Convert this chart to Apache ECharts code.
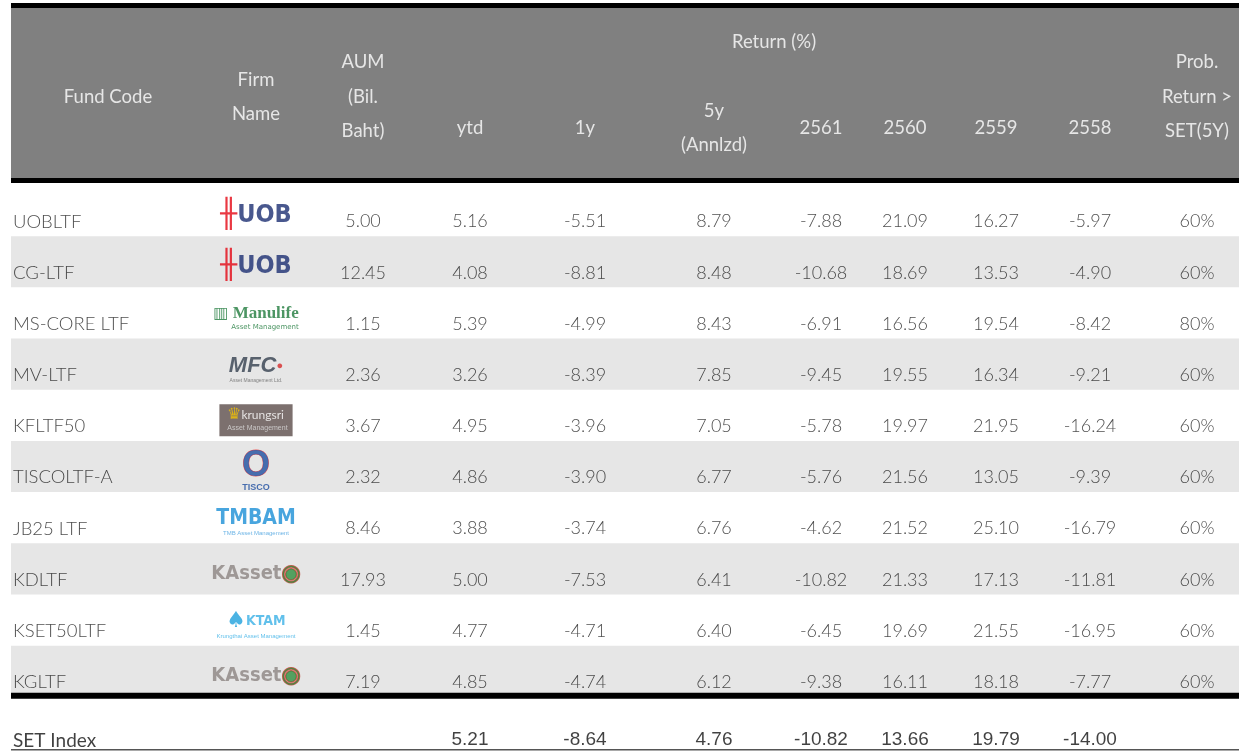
<!DOCTYPE html>
<html>
<head>
<meta charset="utf-8">
<title>LTF fund returns</title>
<script src="https://cdn.jsdelivr.net/npm/echarts@6/dist/echarts.min.js"></script>
<style>
html, body { margin: 0; padding: 0; background: #fff; }
#main { width: 1239px; height: 752px; }
</style>
</head>
<body>
<div id="main"></div>
<script>
// ---- data ----
var fundCodes = ['UOBLTF', 'CG-LTF', 'MS-CORE LTF', 'MV-LTF', 'KFLTF50', 'TISCOLTF-A', 'JB25 LTF', 'KDLTF', 'KSET50LTF', 'KGLTF'];
var firms = ['uob', 'uob', 'manulife', 'mfc', 'krungsri', 'tisco', 'tmbam', 'kasset', 'ktam', 'kasset'];
var aum = [5.00, 12.45, 1.15, 2.36, 3.67, 2.32, 8.46, 17.93, 1.45, 7.19];
var retYtd = [5.16, 4.08, 5.39, 3.26, 4.95, 4.86, 3.88, 5.00, 4.77, 4.85];
var ret1y = [-5.51, -8.81, -4.99, -8.39, -3.96, -3.90, -3.74, -7.53, -4.71, -4.74];
var ret5y = [8.79, 8.48, 8.43, 7.85, 7.05, 6.77, 6.76, 6.41, 6.40, 6.12];
var ret2561 = [-7.88, -10.68, -6.91, -9.45, -5.78, -5.76, -4.62, -10.82, -6.45, -9.38];
var ret2560 = [21.09, 18.69, 16.56, 19.55, 19.97, 21.56, 21.52, 21.33, 19.69, 16.11];
var ret2559 = [16.27, 13.53, 19.54, 16.34, 21.95, 13.05, 25.10, 17.13, 21.55, 18.18];
var ret2558 = [-5.97, -4.90, -8.42, -9.21, -16.24, -9.39, -16.79, -11.81, -16.95, -7.77];
var probBeat = [60, 60, 80, 60, 60, 60, 60, 60, 60, 60];
var setName = 'SET Index';
var setReturns = [5.21, -8.64, 4.76, -10.82, 13.66, 19.79, -14.00];

var headerLabels = ['Fund Code', 'Firm\nName', 'AUM\n(Bil.\nBaht)', 'ytd', '1y', '5y\n(Annlzd)',
  '2561', '2560', '2559', '2558', 'Prob.\nReturn >\nSET(5Y)'];
var groupLabel = 'Return (%)';

// ---- layout ----
var COL_X = [108, 256, 363, 470, 585, 714, 821, 905, 996, 1090, 1197];
var RETURN_COLS = [3, 4, 5, 6, 7, 8, 9];
var TABLE_LEFT = 11, TABLE_RIGHT = 1239;
var HEAD_MAIN_Y = 89, HEAD_SUB_Y = 120, HEAD_GROUP_Y = 34;
var BODY_FONT = 'Lato, "Open Sans", sans-serif';
var rows = fundCodes.concat([setName]);

var mychart = echarts.init(document.getElementById('main'));

function cellSeries(colIdx, values, fmt) {
  return {
    type: 'scatter',
    xAxisIndex: 0, yAxisIndex: 0,
    symbolSize: 1,
    itemStyle: { color: 'transparent' },
    silent: true,
    z: 5,
    data: values.map(function (v, i) { return [COL_X[colIdx], fundCodes[i], v]; }),
    label: {
      show: true, position: 'inside', offset: [0, 11],
      color: '#222', fontSize: 18, fontFamily: BODY_FONT, fontWeight: 300,
      formatter: function (p) { return fmt(p.value[2]); }
    }
  };
}

function two(v) { return v.toFixed(2); }
function pct(v) { return v + '%'; }

var numericCols = [
  [2, aum, two], [3, retYtd, two], [4, ret1y, two], [5, ret5y, two],
  [6, ret2561, two], [7, ret2560, two], [8, ret2559, two], [9, ret2558, two],
  [10, probBeat, pct]
];

// logos drawn as styled text
var narrow = 'DejaVu Sans Condensed';
var logoStyles = {
  uob: {
    formatter: '{h|╫}{t|UOB}',
    rich: {
      h: { color: '#e30613', fontSize: 28, fontFamily: 'DejaVu Sans Mono', fontWeight: 'bold' },
      t: { color: '#1c2e72', fontSize: 25, fontFamily: narrow, fontWeight: 'bold' }
    }
  },
  manulife: {
    formatter: '{i|▥}{t| Manulife}\n{s|Asset Management}',
    rich: {
      i: { color: '#1f7a3c', fontSize: 16, fontFamily: 'DejaVu Sans' },
      t: { color: '#1f7a3c', fontSize: 17, fontFamily: '"Liberation Serif", serif', fontWeight: 'bold', lineHeight: 18 },
      s: { color: '#1f7a3c', fontSize: 7, fontFamily: 'DejaVu Sans', align: 'right', lineHeight: 9 }
    }
  },
  mfc: {
    formatter: '{t|MFC}{d|●}\n{s|Asset Management Ltd.}',
    rich: {
      t: { color: '#34404f', fontSize: 22, fontFamily: 'Liberation Sans', fontWeight: 'bold', fontStyle: 'italic', lineHeight: 22 },
      d: { color: '#d62b2b', fontSize: 11 },
      s: { color: '#666', fontSize: 5, lineHeight: 7 }
    }
  },
  krungsri: {
    formatter: '{y|♛}{t|krungsri}\n{s|  Asset Management}',
    backgroundColor: '#5b4c4a',
    padding: [3, 5, 3, 4],
    rich: {
      y: { color: '#f5c400', fontSize: 16, fontFamily: 'DejaVu Sans' },
      t: { color: '#fff', fontSize: 12, fontFamily: BODY_FONT, lineHeight: 15 },
      s: { color: '#ddd', fontSize: 7, lineHeight: 10 }
    }
  },
  tisco: {
    formatter: '{o|O}\n{t|TISCO}',
    rich: {
      o: { color: '#1f4fa0', fontSize: 36, fontFamily: 'Liberation Sans', fontWeight: 'bold', lineHeight: 32,
        textBorderColor: '#e33', textBorderWidth: 0.8 },
      t: { color: '#1f4fa0', fontSize: 9, fontWeight: 'bold', lineHeight: 10 }
    }
  },
  tmbam: {
    formatter: '{t|TMBAM}\n{s|TMB Asset Management}',
    rich: {
      t: { color: '#1a8fd6', fontSize: 21, fontFamily: narrow, fontWeight: 'bold', lineHeight: 22 },
      s: { color: '#4aa3e0', fontSize: 6, lineHeight: 8 }
    }
  },
  kasset: {
    formatter: '{k|KAsset}{c|◉}',
    rich: {
      k: { color: '#8c8582', fontSize: 20, fontFamily: narrow, fontWeight: 'bold' },
      c: { color: '#2f8f3f', fontSize: 22, fontFamily: 'DejaVu Sans', textBorderColor: '#c0392b', textBorderWidth: 1.5 }
    }
  },
  ktam: {
    formatter: '{d|♠}{t|KTAM}\n{s|Krungthai Asset Management}',
    rich: {
      d: { color: '#1ea0dc', fontSize: 22, fontFamily: 'DejaVu Sans' },
      t: { color: '#3ab0e6', fontSize: 14, fontFamily: narrow, fontWeight: 'bold', lineHeight: 18 },
      s: { color: '#3ab0e6', fontSize: 6, lineHeight: 8 }
    }
  }
};

var series = [];

// row stripes
series.push({
  type: 'custom',
  xAxisIndex: 0, yAxisIndex: 0,
  silent: true, z: 1,
  data: fundCodes.map(function (c, i) { return [i]; }).filter(function (d) { return d[0] % 2 === 1; }),
  renderItem: function (params, api) {
    var r = api.value(0);
    var left = api.coord([TABLE_LEFT, r]);
    var right = api.coord([TABLE_RIGHT, r]);
    var h = api.size([0, 1])[1];
    return { type: 'rect', shape: { x: left[0], y: left[1] - h / 2, width: right[0] - left[0], height: h },
      style: { fill: '#e6e6e6' } };
  },
  encode: { y: 0 }
});

// rules around the SET Index row
series.push({
  type: 'custom',
  xAxisIndex: 0, yAxisIndex: 0,
  silent: true, z: 2,
  data: [[rows.length - 1]],
  renderItem: function (params, api) {
    var r = api.value(0);
    var left = api.coord([TABLE_LEFT, r]);
    var right = api.coord([TABLE_RIGHT, r]);
    var h = api.size([0, 1])[1];
    var w = right[0] - left[0];
    return { type: 'group', children: [
      { type: 'rect', shape: { x: left[0], y: left[1] - h / 2 - 4, width: w, height: 6 }, style: { fill: '#000' } },
      { type: 'rect', shape: { x: left[0], y: left[1] + h / 2 + 1, width: w, height: 1.5 }, style: { fill: '#555' } }
    ] };
  },
  encode: { y: 0 }
});

// fund code column
series.push({
  type: 'scatter', xAxisIndex: 0, yAxisIndex: 0,
  symbolSize: 1, itemStyle: { color: 'transparent' }, silent: true, z: 5,
  data: fundCodes.map(function (c) { return [13, c, c]; }),
  label: { show: true, position: 'inside', align: 'left', offset: [0, 11],
    color: '#222', fontSize: 18.5, fontFamily: BODY_FONT, fontWeight: 300,
    formatter: function (p) { return p.value[2]; } }
});

// firm logos
series.push({
  type: 'scatter', xAxisIndex: 0, yAxisIndex: 0,
  symbolSize: 1, itemStyle: { color: 'transparent' }, silent: true, z: 5,
  data: firms.map(function (f, i) {
    var s = logoStyles[f];
    var lab = { show: true, position: 'inside', offset: [0, 5], formatter: s.formatter, rich: s.rich };
    if (s.backgroundColor) { lab.backgroundColor = s.backgroundColor; lab.padding = s.padding; }
    return { value: [COL_X[1], fundCodes[i]], label: lab };
  })
});

numericCols.forEach(function (c) { series.push(cellSeries(c[0], c[1], c[2])); });

// SET Index row
series.push({
  type: 'scatter', xAxisIndex: 0, yAxisIndex: 0,
  symbolSize: 1, itemStyle: { color: 'transparent' }, silent: true, z: 5,
  data: [[13, setName, setName]],
  label: { show: true, position: 'inside', align: 'left', offset: [0, 18],
    color: '#111', fontSize: 19, fontFamily: BODY_FONT, fontWeight: 'normal',
    formatter: function (p) { return p.value[2]; } }
});
series.push({
  type: 'scatter', xAxisIndex: 0, yAxisIndex: 0,
  symbolSize: 1, itemStyle: { color: 'transparent' }, silent: true, z: 5,
  data: setReturns.map(function (v, i) { return [COL_X[RETURN_COLS[i]], setName, v]; }),
  label: { show: true, position: 'inside', offset: [0, 17],
    color: '#111', fontSize: 19, fontFamily: '"Liberation Sans", Arial, sans-serif',
    formatter: function (p) { return p.value[2].toFixed(2); } }
});

// header labels
var headData = headerLabels.map(function (t, i) {
  var sub = RETURN_COLS.indexOf(i) >= 0;
  return [COL_X[i], sub ? HEAD_SUB_Y : HEAD_MAIN_Y, t];
});
headData.push([(COL_X[RETURN_COLS[0]] + COL_X[RETURN_COLS[RETURN_COLS.length - 1]]) / 2 - 6, HEAD_GROUP_Y, groupLabel]);
series.push({
  type: 'scatter', xAxisIndex: 1, yAxisIndex: 1,
  symbolSize: 1, itemStyle: { color: 'transparent' }, silent: true, z: 10,
  data: headData,
  label: { show: true, position: 'inside', color: '#fff', fontSize: 18.5, lineHeight: 34.5,
    fontFamily: BODY_FONT, align: 'center',
    formatter: function (p) { return p.value[2]; } }
});

var option = {
  animation: false,
  backgroundColor: '#fff',
  graphic: [
    { type: 'rect', z: -1, shape: { x: TABLE_LEFT, y: 8, width: TABLE_RIGHT - TABLE_LEFT, height: 170 }, style: { fill: '#808080' } },
    { type: 'rect', z: -1, shape: { x: TABLE_LEFT, y: 3, width: TABLE_RIGHT - TABLE_LEFT, height: 5 }, style: { fill: '#000' } },
    { type: 'rect', z: -1, shape: { x: TABLE_LEFT, y: 178, width: TABLE_RIGHT - TABLE_LEFT, height: 5 }, style: { fill: '#000' } }
  ],
  grid: [
    { left: 0, right: 0, top: 185, height: 563 },
    { left: 0, right: 0, top: 8, height: 170 }
  ],
  xAxis: [
    { type: 'value', gridIndex: 0, min: 0, max: 1239, show: false },
    { type: 'value', gridIndex: 1, min: 0, max: 1239, show: false }
  ],
  yAxis: [
    { type: 'category', gridIndex: 0, data: rows, inverse: true, show: false },
    { type: 'value', gridIndex: 1, min: 0, max: 170, inverse: true, show: false }
  ],
  series: series
};
mychart.setOption(option);
</script>
</body>
</html>
